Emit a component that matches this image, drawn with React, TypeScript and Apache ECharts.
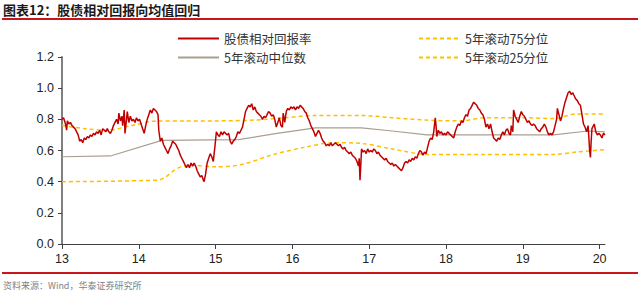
import React, { useEffect, useRef } from "react";
import * as echarts from "echarts";

const xTicks = [13, 14, 15, 16, 17, 18, 19, 20];

const retYears = [
  13.00, 13.02, 13.04, 13.05, 13.06, 13.07, 13.09, 13.11, 13.13, 13.15, 13.17, 13.19, 13.21, 13.23, 13.25, 13.27, 13.29, 13.31, 13.33, 13.35,
  13.37, 13.39, 13.41, 13.43, 13.45, 13.47, 13.49, 13.51, 13.53, 13.55, 13.57, 13.59, 13.61, 13.63, 13.65, 13.67, 13.69, 13.71, 13.73, 13.74,
  13.76, 13.78, 13.79, 13.81, 13.82, 13.84, 13.85, 13.87, 13.89, 13.91, 13.93, 13.95, 13.97, 13.99, 14.01, 14.03, 14.05, 14.07, 14.09, 14.11,
  14.13, 14.15, 14.17, 14.19, 14.21, 14.23, 14.25, 14.26, 14.28, 14.30, 14.32, 14.34, 14.36, 14.38, 14.40, 14.42, 14.44, 14.46, 14.48, 14.50,
  14.52, 14.54, 14.56, 14.58, 14.60, 14.62, 14.64, 14.66, 14.68, 14.70, 14.72, 14.74, 14.76, 14.78, 14.80, 14.82, 14.84, 14.85, 14.87, 14.89,
  14.91, 14.93, 14.95, 14.97, 14.99, 15.01, 15.03, 15.05, 15.07, 15.09, 15.11, 15.13, 15.15, 15.17, 15.19, 15.21, 15.23, 15.25, 15.27, 15.29,
  15.31, 15.33, 15.35, 15.37, 15.39, 15.41, 15.43, 15.45, 15.47, 15.49, 15.51, 15.53, 15.55, 15.57, 15.59, 15.61, 15.63, 15.65, 15.67, 15.69,
  15.71, 15.73, 15.75, 15.77, 15.79, 15.81, 15.83, 15.85, 15.87, 15.88, 15.90, 15.92, 15.94, 15.96, 15.98, 16.00, 16.02, 16.04, 16.06, 16.08,
  16.10, 16.12, 16.14, 16.16, 16.18, 16.20, 16.22, 16.24, 16.26, 16.28, 16.30, 16.32, 16.34, 16.36, 16.38, 16.40, 16.42, 16.44, 16.46, 16.48,
  16.50, 16.52, 16.54, 16.56, 16.58, 16.60, 16.62, 16.64, 16.66, 16.68, 16.70, 16.72, 16.74, 16.76, 16.78, 16.80, 16.82, 16.84, 16.86, 16.87,
  16.88, 16.89, 16.90, 16.92, 16.94, 16.96, 16.98, 17.00, 17.02, 17.04, 17.06, 17.08, 17.10, 17.12, 17.14, 17.16, 17.18, 17.20, 17.22, 17.24,
  17.26, 17.28, 17.30, 17.32, 17.34, 17.36, 17.38, 17.40, 17.42, 17.44, 17.46, 17.48, 17.50, 17.52, 17.54, 17.56, 17.58, 17.60, 17.62, 17.64,
  17.66, 17.68, 17.70, 17.72, 17.74, 17.76, 17.78, 17.80, 17.82, 17.84, 17.86, 17.87, 17.88, 17.90, 17.92, 17.94, 17.96, 17.98, 18.00, 18.02,
  18.04, 18.06, 18.08, 18.10, 18.12, 18.14, 18.16, 18.18, 18.20, 18.22, 18.24, 18.26, 18.28, 18.30, 18.32, 18.34, 18.36, 18.38, 18.40, 18.42,
  18.44, 18.46, 18.48, 18.50, 18.52, 18.54, 18.56, 18.58, 18.60, 18.62, 18.64, 18.66, 18.68, 18.70, 18.72, 18.74, 18.76, 18.78, 18.80, 18.82,
  18.84, 18.85, 18.87, 18.88, 18.90, 18.92, 18.94, 18.96, 18.98, 19.00, 19.02, 19.04, 19.06, 19.08, 19.10, 19.12, 19.14, 19.16, 19.18, 19.20,
  19.22, 19.24, 19.26, 19.28, 19.30, 19.32, 19.34, 19.36, 19.38, 19.40, 19.42, 19.44, 19.45, 19.47, 19.49, 19.51, 19.53, 19.55, 19.57, 19.59,
  19.61, 19.63, 19.65, 19.67, 19.69, 19.71, 19.73, 19.75, 19.76, 19.78, 19.79, 19.81, 19.83, 19.85, 19.86, 19.87, 19.88, 19.89, 19.90, 19.92,
  19.93, 19.95, 19.97, 19.99, 20.01, 20.03, 20.05, 20.07,
];

const retValues = [
  0.80, 0.81, 0.78, 0.76, 0.73, 0.79, 0.77, 0.78, 0.76, 0.75, 0.74, 0.72, 0.70, 0.66, 0.67, 0.65, 0.68, 0.67, 0.69, 0.68,
  0.70, 0.69, 0.71, 0.70, 0.72, 0.71, 0.73, 0.70, 0.74, 0.73, 0.72, 0.74, 0.72, 0.71, 0.73, 0.76, 0.78, 0.80, 0.77, 0.84,
  0.79, 0.82, 0.76, 0.86, 0.71, 0.80, 0.85, 0.78, 0.82, 0.79, 0.80, 0.78, 0.81, 0.79, 0.80, 0.77, 0.74, 0.71, 0.76, 0.80,
  0.83, 0.86, 0.84, 0.87, 0.86, 0.85, 0.83, 0.73, 0.66, 0.68, 0.64, 0.62, 0.60, 0.58, 0.61, 0.63, 0.66, 0.65, 0.64, 0.62,
  0.60, 0.57, 0.55, 0.53, 0.51, 0.49, 0.51, 0.49, 0.52, 0.50, 0.52, 0.50, 0.47, 0.45, 0.43, 0.44, 0.41, 0.40, 0.45, 0.52,
  0.55, 0.58, 0.56, 0.53, 0.62, 0.72, 0.70, 0.69, 0.72, 0.70, 0.72, 0.71, 0.70, 0.71, 0.66, 0.64, 0.66, 0.67, 0.69, 0.72,
  0.71, 0.73, 0.75, 0.80, 0.85, 0.87, 0.89, 0.88, 0.90, 0.86, 0.88, 0.85, 0.84, 0.83, 0.82, 0.80, 0.82, 0.81, 0.83, 0.85,
  0.84, 0.82, 0.83, 0.80, 0.75, 0.78, 0.81, 0.76, 0.75, 0.84, 0.78, 0.85, 0.87, 0.86, 0.88, 0.87, 0.88, 0.86, 0.88, 0.87,
  0.89, 0.88, 0.87, 0.85, 0.84, 0.81, 0.79, 0.76, 0.74, 0.72, 0.69, 0.71, 0.73, 0.71, 0.68, 0.66, 0.65, 0.63, 0.64, 0.63,
  0.65, 0.63, 0.64, 0.65, 0.64, 0.63, 0.64, 0.62, 0.61, 0.62, 0.60, 0.59, 0.58, 0.59, 0.57, 0.56, 0.55, 0.53, 0.50, 0.55,
  0.41, 0.50, 0.61, 0.59, 0.60, 0.58, 0.61, 0.59, 0.60, 0.59, 0.61, 0.60, 0.58, 0.59, 0.57, 0.56, 0.55, 0.54, 0.55, 0.53,
  0.52, 0.51, 0.52, 0.50, 0.51, 0.50, 0.49, 0.48, 0.47, 0.49, 0.52, 0.53, 0.52, 0.54, 0.53, 0.55, 0.54, 0.56, 0.55, 0.58,
  0.60, 0.59, 0.57, 0.59, 0.58, 0.62, 0.66, 0.68, 0.67, 0.72, 0.81, 0.76, 0.69, 0.73, 0.71, 0.72, 0.70, 0.71, 0.70, 0.72,
  0.71, 0.70, 0.69, 0.68, 0.72, 0.75, 0.77, 0.76, 0.79, 0.78, 0.81, 0.83, 0.82, 0.86, 0.87, 0.89, 0.91, 0.90, 0.89, 0.87,
  0.86, 0.84, 0.83, 0.80, 0.75, 0.77, 0.74, 0.77, 0.72, 0.68, 0.67, 0.66, 0.68, 0.67, 0.70, 0.72, 0.70, 0.73, 0.74, 0.71,
  0.70, 0.76, 0.72, 0.86, 0.82, 0.80, 0.78, 0.82, 0.85, 0.83, 0.82, 0.80, 0.78, 0.79, 0.77, 0.76, 0.77, 0.76, 0.74, 0.73,
  0.72, 0.74, 0.75, 0.77, 0.75, 0.72, 0.70, 0.71, 0.70, 0.72, 0.76, 0.80, 0.87, 0.83, 0.79, 0.82, 0.87, 0.91, 0.94, 0.97,
  0.98, 0.96, 0.97, 0.95, 0.93, 0.92, 0.90, 0.89, 0.86, 0.80, 0.77, 0.75, 0.72, 0.76, 0.68, 0.60, 0.555, 0.66, 0.74, 0.76,
  0.77, 0.72, 0.70, 0.71, 0.70, 0.68, 0.71, 0.70,
];

const medYears = [13.0, 13.63, 14.3, 15.3, 15.8, 16.3, 16.9, 17.3, 17.75, 18.5, 19.4, 19.85, 20.07];
const medValues = [0.56, 0.565, 0.665, 0.67, 0.71, 0.745, 0.745, 0.725, 0.70, 0.70, 0.70, 0.725, 0.72];

const p75Years = [13.0, 13.3, 13.6, 13.9, 14.25, 14.6, 15.0, 15.5, 15.9, 16.3, 16.9, 17.3, 17.75, 18.2, 18.5, 19.0, 19.4, 19.7, 20.07];
const p75Values = [0.76, 0.74, 0.73, 0.76, 0.79, 0.79, 0.79, 0.795, 0.81, 0.825, 0.825, 0.81, 0.795, 0.79, 0.81, 0.81, 0.805, 0.835, 0.835];

const p25Years = [13.0, 14.25, 14.35, 14.45, 14.55, 14.7, 15.0, 15.34, 15.76, 16.15, 16.52, 16.9, 17.3, 17.75, 18.5, 19.4, 19.7, 20.07];
const p25Values = [0.40, 0.41, 0.43, 0.47, 0.495, 0.505, 0.495, 0.51, 0.575, 0.62, 0.65, 0.645, 0.61, 0.575, 0.575, 0.575, 0.59, 0.605];

const seriesNames = ["股债相对回报率", "5年滚动中位数", "5年滚动75分位", "5年滚动25分位"];

const zip = (xs: number[], ys: number[]) => xs.map((x, i) => [x, ys[i]]);

const FONT = "'Liberation Sans', 'Noto Sans CJK SC', sans-serif";
const CJK = "'Noto Sans CJK SC', 'Liberation Sans', sans-serif";

const legendBase = {
  orient: "vertical",
  top: 27,
  itemWidth: 41,
  itemHeight: 12,
  itemGap: 6,
  itemStyle: { opacity: 0 },
  textStyle: { fontFamily: CJK, fontSize: 12.5, color: "#333", lineHeight: 13 },
};

export default function App() {
  const ref = useRef<HTMLDivElement>(null);
  useEffect(() => {
    document.body.style.margin = "0";
    const chart = echarts.init(ref.current!, undefined, { renderer: "svg" });
    chart.setOption({
      animation: false,
      backgroundColor: "#ffffff",
      textStyle: { fontFamily: FONT },
      grid: { left: 62, right: 35, top: 57, bottom: 52, containLabel: false },
      legend: [
        { ...legendBase, data: [seriesNames[0], seriesNames[1]], left: 172 },
        { ...legendBase, data: [seriesNames[2], seriesNames[3]], left: 413 },
      ],
      xAxis: {
        type: "value",
        min: 13,
        max: 20.07,
        interval: 1,
        axisLine: { show: true, lineStyle: { color: "#404040", width: 1 } },
        axisTick: { show: true, length: 5, lineStyle: { color: "#404040" }, customValues: xTicks },
        axisLabel: {
          color: "#222",
          fontSize: 12.5,
          margin: 9,
          customValues: xTicks,
          formatter: (v: number) => (Number.isInteger(v) ? String(v) : ""),
        },
        splitLine: { show: false },
      },
      yAxis: {
        type: "value",
        min: 0,
        max: 1.2,
        interval: 0.2,
        axisLine: { show: true, lineStyle: { color: "#808080", width: 2 } },
        axisTick: { show: true, length: 4, lineStyle: { color: "#404040" } },
        axisLabel: { color: "#222", fontSize: 12.5, margin: 8, formatter: (v: number) => v.toFixed(1) },
        splitLine: { show: false },
      },
      series: [
        {
          name: seriesNames[1],
          type: "line",
          symbol: "none",
          data: zip(medYears, medValues),
          lineStyle: { color: "#aa9f8f", width: 1.2 },
          itemStyle: { color: "#aa9f8f" },
          z: 2,
        },
        {
          name: seriesNames[2],
          type: "line",
          symbol: "none",
          data: zip(p75Years, p75Values),
          smooth: 0.3,
          lineStyle: { color: "#ffc000", width: 1.5, type: [4, 3] },
          itemStyle: { color: "#ffc000" },
          z: 3,
        },
        {
          name: seriesNames[3],
          type: "line",
          symbol: "none",
          data: zip(p25Years, p25Values),
          smooth: 0.3,
          lineStyle: { color: "#ffc000", width: 1.5, type: [4, 3] },
          itemStyle: { color: "#ffc000" },
          z: 3,
        },
        {
          name: seriesNames[0],
          type: "line",
          symbol: "none",
          data: zip(retYears, retValues),
          lineStyle: { color: "#c00000", width: 1.5 },
          itemStyle: { color: "#c00000" },
          z: 4,
        },
      ],
      graphic: [
        {
          type: "text",
          left: 3,
          top: 3,
          style: { text: "图表12：股债相对回报向均值回归", fontFamily: CJK, fontSize: 13, fontWeight: "bold", fill: "#1a1a1a" },
        },
        { type: "rect", shape: { x: 2, y: 18, width: 636, height: 2 }, style: { fill: "#c8161d" } },
        { type: "rect", shape: { x: 2, y: 272, width: 636, height: 2 }, style: { fill: "#c8161d" } },
        {
          type: "text",
          left: 3,
          top: 281,
          style: { text: "资料来源：Wind，华泰证券研究所", fontFamily: CJK, fontSize: 9, fill: "#7f7f7f" },
        },
      ],
    });
    return () => chart.dispose();
  }, []);
  return <div ref={ref} style={{ width: 640, height: 296 }} />;
}
